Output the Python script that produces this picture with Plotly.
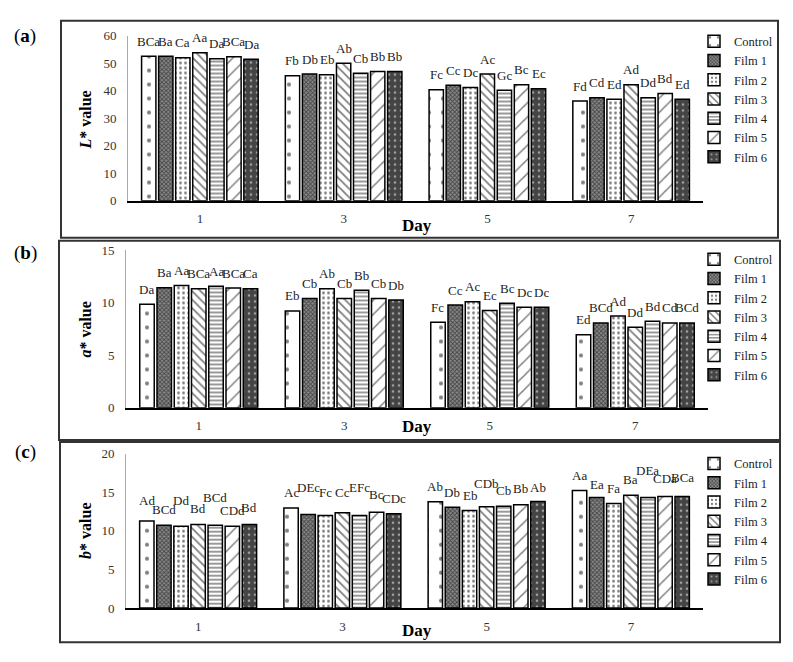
import plotly.graph_objects as go

W, H = 793, 662          # target window
OFF = 8                  # default page body margin
FW, FH = W - OFF, H - OFF

days = ["1", "3", "5", "7"]
series = ["Control", "Film 1", "Film 2", "Film 3", "Film 4", "Film 5", "Film 6"]

# L* values (panel a), per series across days 1,3,5,7
L_vals = {
    "Control": [52.5, 45.4, 40.3, 36.2],
    "Film 1": [52.5, 46.0, 41.9, 37.4],
    "Film 2": [51.9, 45.7, 41.1, 36.8],
    "Film 3": [53.7, 49.9, 46.0, 42.1],
    "Film 4": [51.6, 46.3, 40.1, 37.4],
    "Film 5": [52.3, 46.9, 42.1, 38.9],
    "Film 6": [51.4, 46.9, 40.7, 36.8],
}
L_letters = {
    "Control": ["BCa", "Fb", "Fc", "Fd"],
    "Film 1": ["Ba", "Db", "Cc", "Cd"],
    "Film 2": ["Ca", "Eb", "Dc", "Ed"],
    "Film 3": ["Aa", "Ab", "Ac", "Ad"],
    "Film 4": ["Da", "Cb", "Gc", "Dd"],
    "Film 5": ["BCa", "Bb", "Bc", "Bd"],
    "Film 6": ["Da", "Bb", "Ec", "Ed"],
}

# a* values (panel b)
a_vals = {
    "Control": [9.87, 9.24, 8.15, 6.97],
    "Film 1": [11.45, 10.43, 9.80, 8.09],
    "Film 2": [11.67, 11.36, 10.10, 8.75],
    "Film 3": [11.36, 10.43, 9.27, 7.69],
    "Film 4": [11.58, 11.20, 9.96, 8.25],
    "Film 5": [11.42, 10.43, 9.59, 8.09],
    "Film 6": [11.36, 10.27, 9.59, 8.09],
}
a_letters = {
    "Control": ["Da", "Eb", "Fc", "Ed"],
    "Film 1": ["Ba", "Cb", "Cc", "BCd"],
    "Film 2": ["Aa", "Ab", "Ac", "Ad"],
    "Film 3": ["BCa", "Cb", "Ec", "Dd"],
    "Film 4": ["Aa", "Bb", "Bc", "Bd"],
    "Film 5": ["BCa", "Cb", "Dc", "Cd"],
    "Film 6": ["Ca", "Db", "Dc", "BCd"],
}

# b* values (panel c)
b_vals = {
    "Control": [11.28, 12.97, 13.77, 15.24],
    "Film 1": [10.74, 12.13, 13.05, 14.32],
    "Film 2": [10.61, 12.00, 12.63, 13.56],
    "Film 3": [10.82, 12.34, 13.14, 14.61],
    "Film 4": [10.74, 12.00, 13.18, 14.32],
    "Film 5": [10.61, 12.42, 13.39, 14.44],
    "Film 6": [10.82, 12.21, 13.81, 14.44],
}
b_letters = {
    "Control": ["Ad", "Ac", "Ab", "Aa"],
    "Film 1": ["BCd", "DEc", "Db", "Ea"],
    "Film 2": ["Dd", "Fc", "Eb", "Fa"],
    "Film 3": ["Bd", "Cc", "CDb", "Ba"],
    "Film 4": ["BCd", "EFc", "Cb", "DEa"],
    "Film 5": ["CDd", "Bc", "Bb", "CDa"],
    "Film 6": ["Bd", "CDc", "Ab", "BCa"],
}

y_ticks_a = [0, 10, 20, 30, 40, 50, 60]
y_ticks_b = [0, 5, 10, 15]
y_ticks_c = [0, 5, 10, 15, 20]

# ---- styling below ----
FONT = "Liberation Serif"
BARGAP = 0.17

# vertical lift (px) of each letter label above its bar top (panel c is staggered)
lift_c = {
    "Control": [21, 15, 15, 15],
    "Film 1": [16, 27, 15, 13],
    "Film 2": [26, 23, 15, 15],
    "Film 3": [16, 20, 23, 16],
    "Film 4": [28, 28, 16, 27],
    "Film 5": [16, 18, 16, 18],
    "Film 6": [17, 15, 14, 19],
}

patterns = {
    "Control": dict(shape=".", size=14, solidity=0.07, fgcolor="black", bgcolor="white"),
    "Film 1": dict(shape="x", size=3, solidity=0.5, fgcolor="black", bgcolor="#8a8a8a"),
    "Film 2": dict(shape=".", size=5, solidity=0.25, fgcolor="black", bgcolor="white"),
    "Film 3": dict(shape="\\", size=6, solidity=0.3, fgcolor="black", bgcolor="white"),
    "Film 4": dict(shape="-", size=4, solidity=0.4, fgcolor="black", bgcolor="white"),
    "Film 5": dict(shape="/", size=10, solidity=0.15, fgcolor="black", bgcolor="white"),
    "Film 6": dict(shape=".", size=6, solidity=0.15, fgcolor="white", bgcolor="#444"),
}


def px_x(x):
    return (x - OFF) / FW


def px_y(y):
    return 1 - (y - OFF) / FH


fig = go.Figure()

panels = [
    dict(vals=L_vals, letters=L_letters, xa="x", ya="y", leg="legend", xpx=(128, 703), lift=None),
    dict(vals=a_vals, letters=a_letters, xa="x2", ya="y2", leg="legend2", xpx=(126, 708), lift=None),
    dict(vals=b_vals, letters=b_letters, xa="x3", ya="y3", leg="legend3", xpx=(126, 703), lift=lift_c),
]

for p in panels:
    cat_w = (p["xpx"][1] - p["xpx"][0]) / len(days)
    pitch = cat_w * (1 - BARGAP) / len(series)
    for i, s in enumerate(series):
        fig.add_trace(go.Bar(
            x=days, y=p["vals"][s], name=s,
            marker=dict(color="white", line=dict(color="black", width=1.5),
                        pattern=patterns[s]),
            xaxis=p["xa"], yaxis=p["ya"], legend=p["leg"],
        ))
        for j, d in enumerate(days):
            lift = p["lift"][s][j] if p["lift"] else 15
            fig.add_annotation(
                x=j, y=p["vals"][s][j], xref=p["xa"], yref=p["ya"],
                text=p["letters"][s][j], showarrow=False,
                xanchor="center", yanchor="middle",
                xshift=(i - (len(series) - 1) / 2) * pitch, yshift=lift,
                font=dict(family=FONT, size=13, color="#222"),
            )

xcommon = dict(type="category", showline=True, linecolor="black", linewidth=2,
               ticks="", showgrid=False, zeroline=False, ticklabelstandoff=5,
               range=[-0.5, len(days) - 0.5],
               tickfont=dict(family=FONT, size=13, color="#333"))
ycommon = dict(showline=True, linecolor="#aaa", linewidth=1, ticks="",
               showgrid=False, zeroline=False, ticklabelstandoff=8,
               tickfont=dict(family=FONT, size=13, color="#333"))

legcommon = dict(font=dict(family=FONT, size=12.5, color="#222"),
                 bgcolor="rgba(0,0,0,0)", xanchor="left", yanchor="top",
                 tracegroupgap=0, itemwidth=30)

fig.update_layout(
    width=FW, height=FH,
    margin=dict(l=0, r=0, t=0, b=0),
    paper_bgcolor="white", plot_bgcolor="white",
    barmode="group", bargap=BARGAP, bargroupgap=0.16,
    font=dict(family=FONT),
    xaxis=dict(domain=[px_x(128), px_x(703)], anchor="y", **xcommon),
    yaxis=dict(domain=[px_y(198), px_y(29)], anchor="x", range=[0, 60],
               tickvals=y_ticks_a, **ycommon),
    xaxis2=dict(domain=[px_x(126), px_x(708)], anchor="y2", **xcommon),
    yaxis2=dict(domain=[px_y(410), px_y(249)], anchor="x2", range=[0, 15],
                tickvals=y_ticks_b, **ycommon),
    xaxis3=dict(domain=[px_x(126), px_x(703)], anchor="y3", **xcommon),
    yaxis3=dict(domain=[px_y(615), px_y(457)], anchor="x3", range=[0, 20],
                tickvals=y_ticks_c, **ycommon),
    legend=dict(x=px_x(694), y=px_y(20), **legcommon),
    legend2=dict(x=px_x(694), y=px_y(243), **legcommon),
    legend3=dict(x=px_x(694), y=px_y(452), **legcommon),
)

# panel borders
for (x0, y0, x1, y1) in [(61, 14, 778, 236), (59, 239, 780, 443), (60, 445, 780, 650)]:
    fig.add_shape(type="rect", xref="paper", yref="paper",
                  x0=px_x(x0), x1=px_x(x1), y0=px_y(y1), y1=px_y(y0),
                  line=dict(color="#333", width=2), fillcolor="rgba(0,0,0,0)")

# panel labels, axis titles
for lab, ly, ytitle, ty, dy in [
    ("(<b>a</b>)", 30, "<b><i>L</i>* value</b>", 116, 223),
    ("(<b>b</b>)", 252, "<b><i>a</i>* value</b>", 330, 429),
    ("(<b>c</b>)", 455, "<b><i>b</i>* value</b>", 536, 638),
]:
    fig.add_annotation(text=lab, xref="paper", yref="paper", x=px_x(25), y=px_y(ly),
                       xanchor="center", yanchor="middle", showarrow=False,
                       font=dict(family=FONT, size=19, color="black"))
    fig.add_annotation(text=ytitle, xref="paper", yref="paper", x=px_x(86), y=px_y(ty),
                       xanchor="center", yanchor="middle", showarrow=False, textangle=-90,
                       font=dict(family=FONT, size=16, color="black"))
    fig.add_annotation(text="<b>Day</b>", xref="paper", yref="paper", x=px_x(417), y=px_y(dy),
                       xanchor="center", yanchor="middle", showarrow=False,
                       font=dict(family=FONT, size=17, color="black"))

fig.write_html("out.html")
